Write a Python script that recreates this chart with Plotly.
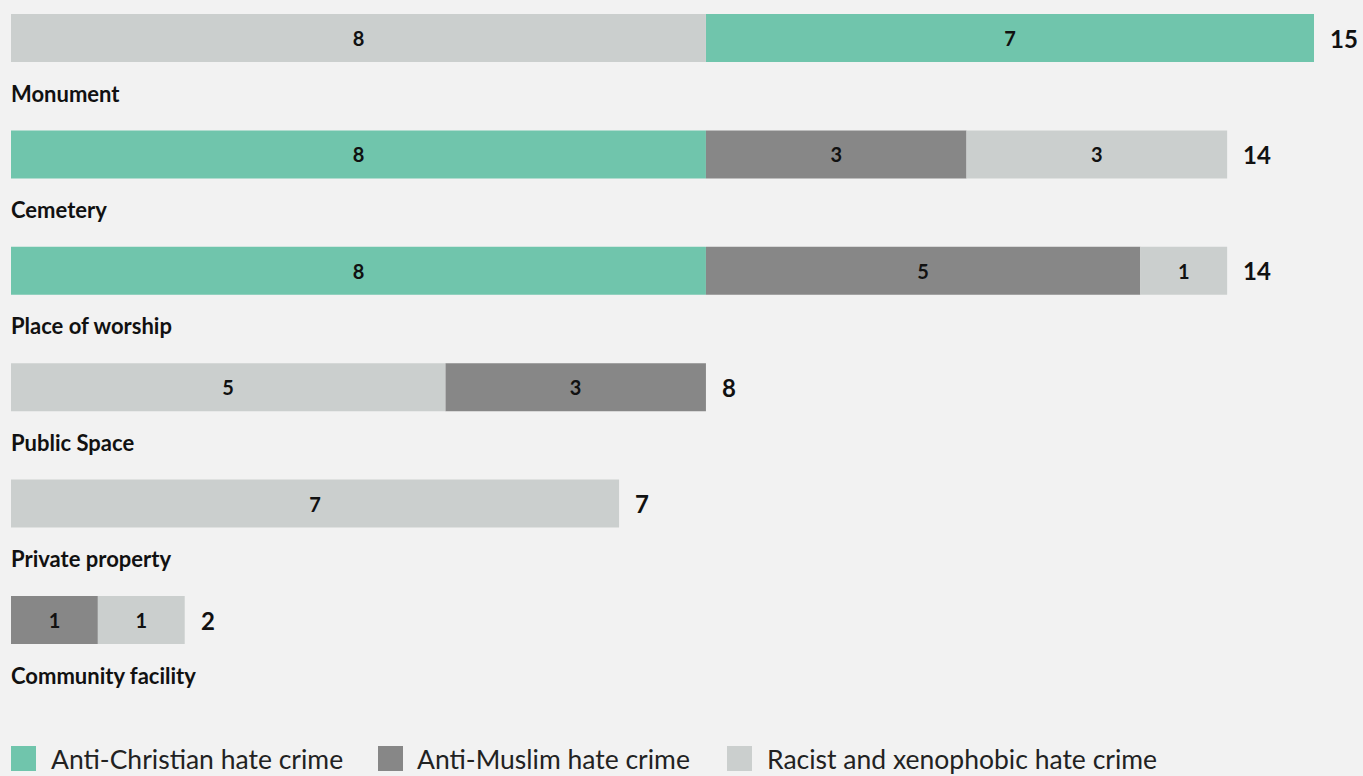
import plotly.graph_objects as go

categories = ["Monument", "Cemetery", "Place of worship", "Public Space", "Private property", "Community facility"]
series_names = ["Anti-Christian hate crime", "Anti-Muslim hate crime", "Racist and xenophobic hate crime"]
anti_christian = [7, 8, 8, 0, 0, 0]
anti_muslim = [0, 3, 5, 3, 0, 1]
racist = [8, 3, 1, 5, 7, 1]
# stacking order of series (index into series) for each category, left to right
stack_order = [[2, 0, 1], [0, 1, 2], [0, 1, 2], [2, 1, 0], [2, 0, 1], [1, 2, 0]]

colors = ["#70c5ac", "#878787", "#cbcfce"]
BG = "#f2f2f2"
FONT = "Lato"
W, H = 1363, 776
ML, MR, MT, MB = 11, 0, 0, 76

values = [anti_christian, anti_muslim, racist]
n = len(categories)
totals = [sum(v[i] for v in values) for i in range(n)]

# compute bases from the stacking order
bases = [[0] * n for _ in values]
for i in range(n):
    acc = 0
    for s in stack_order[i]:
        bases[s][i] = acc
        acc += values[s][i]

ypos = list(range(n))
fig = go.Figure()
for s, name in enumerate(series_names):
    xs = [v if v else None for v in values[s]]
    fig.add_trace(go.Bar(
        orientation="h", name=name, y=ypos, x=xs, base=bases[s],
        width=0.412, marker=dict(color=colors[s], line=dict(width=0)),
        text=[f"<b>{v}</b>" if v else "" for v in values[s]],
        textposition="inside", insidetextanchor="middle", textangle=0,
        constraintext="none",
        insidetextfont=dict(family=FONT, size=20, color="#111111"),
        showlegend=False, hoverinfo="x+name",
    ))

ann = []
for i in range(n):
    ann.append(dict(x=totals[i], y=i, xref="x", yref="y", text=f"<b>{totals[i]}</b>",
                    showarrow=False, xanchor="left", xshift=14,
                    font=dict(family=FONT, size=24, color="#111111")))
    ann.append(dict(x=0, y=i, xref="x", yref="y", text=f"<b>{categories[i]}</b>",
                    showarrow=False, xanchor="left", yanchor="middle", yshift=-55, xshift=-2,
                    font=dict(family=FONT, size=22, color="#111111")))

plot_w = W - ML - MR
plot_h = H - MT - MB
def px_x(p):
    return (p - ML) / plot_w
def px_y(p):
    return (H - MB - p) / plot_h

shapes = []
legend_sq_x = [11, 378, 727]
legend_tx_x = [49, 415, 765]
for s, name in enumerate(series_names):
    shapes.append(dict(type="rect", xref="paper", yref="paper",
                       x0=px_x(legend_sq_x[s]), x1=px_x(legend_sq_x[s] + 25),
                       y0=px_y(771), y1=px_y(746),
                       fillcolor=colors[s], line=dict(width=0)))
    ann.append(dict(x=px_x(legend_tx_x[s]), y=px_y(758.5), xref="paper", yref="paper",
                    text=name, showarrow=False, xanchor="left", yanchor="middle",
                    font=dict(family=FONT, size=26.5, color="#222222")))

px_per_unit = 1303 / 15
plot_units = plot_w / px_per_unit
top = -38 / 116.4
bottom = top + plot_h / 116.4

fig.update_layout(
    width=W, height=H, barmode="overlay",
    paper_bgcolor=BG, plot_bgcolor=BG,
    margin=dict(l=ML, r=MR, t=MT, b=MB),
    xaxis=dict(range=[0, plot_units], visible=False, fixedrange=True),
    yaxis=dict(range=[bottom, top], visible=False, fixedrange=True),
    annotations=ann, shapes=shapes,
    font=dict(family=FONT),
)
fig.write_html(
    "out.html",
    config={"displayModeBar": False},
    post_script="document.body.style.margin='0';document.body.style.padding='0';"
                "document.body.style.background='#f2f2f2';"
                "document.documentElement.style.overflow='hidden';",
)
